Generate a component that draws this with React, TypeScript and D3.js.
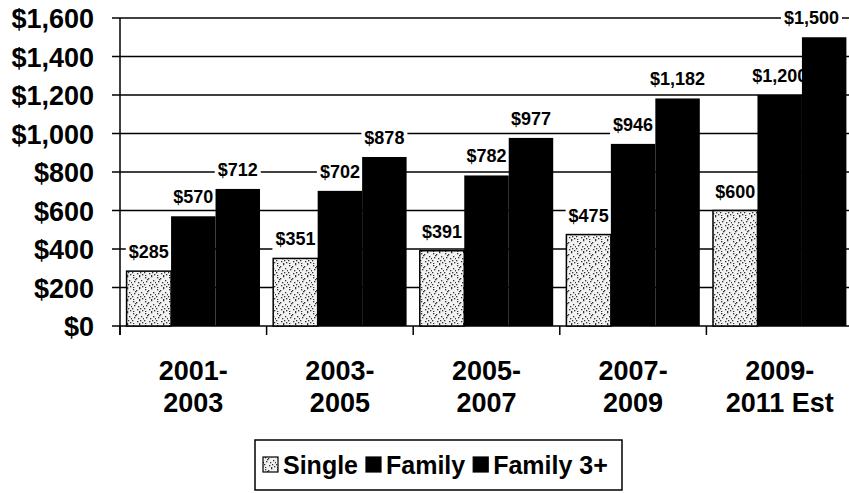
import React from "react";
import * as d3 from "d3";

const categories = ["2001-|2003", "2003-|2005", "2005-|2007", "2007-|2009", "2009-|2011 Est"];
const seriesNames = ["Single", "Family", "Family 3+"];
const singleValues = [285, 351, 391, 475, 600];
const familyValues = [570, 702, 782, 946, 1200];
const family3Values = [712, 878, 977, 1182, 1500];
const yTicks = [0, 200, 400, 600, 800, 1000, 1200, 1400, 1600];

const W = 849;
const H = 493;
const FONT = "'Liberation Sans', Arial, sans-serif";

const fmt = (v: number) => "$" + d3.format(",")(v);
const textW = (s: string, fs: number) => {
  let w = 0;
  for (const ch of s) w += ch === "," ? 0.278 : ch === " " ? 0.278 : 0.556;
  return w * fs;
};

export default function App() {
  const y = d3.scaleLinear().domain([0, 1600]).range([326, 18]);
  const x0 = d3.scaleBand<string>().domain(categories).range([120, 853]).paddingInner(0.09).paddingOuter(0.045);
  const x1 = d3.scaleBand<string>().domain(seriesNames).range([0, x0.bandwidth()]);
  const step = x0.step();
  const seriesData = [singleValues, familyValues, family3Values];
  const fills = ["url(#speckle)", "#000", "#000"];
  const labelFs = 18;

  const speckDots = [
    [1, 1], [4, 2], [7, 0], [2, 5], [6, 6], [9, 4], [0, 8], [5, 9], [8, 8], [3, 3], [10, 10], [11, 6], [1, 11], [7, 11],
  ];

  return (
    <svg width={W} height={H} style={{ position: "absolute", left: 0, top: 0, background: "#fff" }} fontFamily={FONT}>
      <defs>
        <pattern id="speckle" width={12} height={12} patternUnits="userSpaceOnUse">
          <rect width={12} height={12} fill="#f2f2f2" />
          {speckDots.map((d, i) => (
            <rect key={i} x={d[0]} y={d[1]} width={1.3} height={1.3} fill="#333" />
          ))}
        </pattern>
      </defs>
      <rect width={W} height={H} fill="#fff" />
      {/* gridlines */}
      {yTicks.map((t) => (
        <line key={"g" + t} x1={112} x2={W} y1={y(t)} y2={y(t)} stroke="#000" strokeWidth={1.5} />
      ))}
      {/* y axis */}
      <line x1={120} x2={120} y1={y(1600)} y2={y(0) + 9} stroke="#000" strokeWidth={1.5} />
      {/* category ticks */}
      {categories.map((c) => (
        <line key={"t" + c} x1={x0(c)! - (step - x0.bandwidth()) / 2 + (c === categories[0] ? 0 : 0)} x2={x0(c)! - (step - x0.bandwidth()) / 2} y1={y(0)} y2={y(0) + 9} stroke="#000" strokeWidth={1.5} />
      ))}
      {/* y tick labels */}
      {yTicks.map((t) => (
        <text key={"yl" + t} x={94} y={y(t) + 10} textAnchor="end" fontSize={27} fontWeight="bold">
          {fmt(t)}
        </text>
      ))}
      {/* bars and labels per series */}
      {seriesData.map((vals, si) => (
        <g key={"s" + si}>
          {vals.map((v, ci) => {
            const c = categories[ci];
            const bx = x0(c)! + x1(seriesNames[si])!;
            const bw = x1.bandwidth();
            return (
              <rect key={"b" + ci} x={bx} y={y(v)} width={bw} height={y(0) - y(v)} fill={fills[si]} stroke="#000" strokeWidth={si === 0 ? 1.5 : 0} />
            );
          })}
          {vals.map((v, ci) => {
            const c = categories[ci];
            const bw = x1.bandwidth();
            let cx = x0(c)! + x1(seriesNames[si])! + bw / 2;
            const label = fmt(v);
            const tw = textW(label, labelFs);
            if (cx + tw / 2 > W - 10) cx = W - 10 - tw / 2;
            const by = y(v) - 13;
            return (
              <g key={"l" + ci}>
                <rect x={cx - tw / 2 - 3} y={by - 16} width={tw + 6} height={21} fill="#fff" />
                <text x={cx} y={by} textAnchor="middle" fontSize={labelFs} fontWeight="bold">
                  {label}
                </text>
              </g>
            );
          })}
        </g>
      ))}
      {/* category labels */}
      {categories.map((c) => {
        const cx = x0(c)! + x0.bandwidth() / 2;
        const lines = c.split("|");
        return (
          <text key={"c" + c} x={cx} textAnchor="middle" fontSize={27} fontWeight="bold">
            {lines.map((ln, i) => (
              <tspan key={i} x={cx} y={380 + i * 32}>
                {ln}
              </tspan>
            ))}
          </text>
        );
      })}
      {/* legend */}
      <g>
        <rect x={255} y={440} width={367} height={50} fill="#fff" stroke="#000" strokeWidth={1.5} />
        {(() => {
          const fs = 25;
          let x = 263;
          const items: React.ReactNode[] = [];
          seriesNames.forEach((n, i) => {
            items.push(
              <rect key={"li" + i} x={x} y={457} width={15} height={15} fill={fills[i]} stroke="#000" strokeWidth={1.2} />
            );
            x += 20;
            items.push(
              <text key={"lt" + i} x={x} y={474} fontSize={fs} fontWeight="bold">
                {n}
              </text>
            );
            const w = n === "Single" ? 3.0 * fs : n === "Family" ? 3.168 * fs : 4.586 * fs;
            x += w + 8;
          });
          return items;
        })()}
      </g>
    </svg>
  );
}
